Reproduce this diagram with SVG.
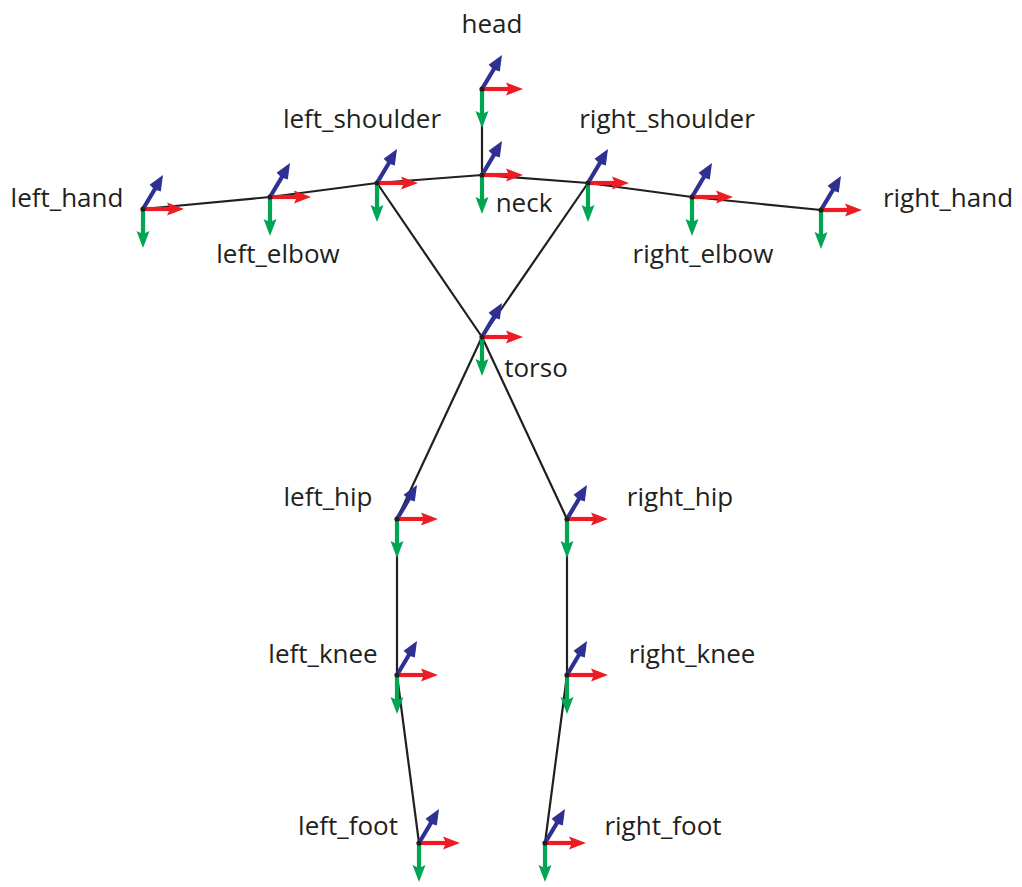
<svg xmlns="http://www.w3.org/2000/svg" xmlns:xlink="http://www.w3.org/1999/xlink" width="1022" height="887" viewBox="0 0 1022 887">
<style>
.bone{stroke:#231f20;stroke-width:2.2;fill:none;stroke-linecap:round}
.lbl{font-family:"Open Sans","Liberation Sans",sans-serif;font-size:26px;fill:#231f20;text-anchor:middle}
</style>
<defs>
<g id="axes">
<line x1="0" y1="0" x2="12.5" y2="-21" stroke="#2e3192" stroke-width="4.2"/>
<polygon points="20,-34 17.8,-17.6 11.5,-19.5 6.6,-24.3" fill="#2e3192"/>
<line x1="0" y1="0" x2="28" y2="0" stroke="#ed1c24" stroke-width="4.2"/>
<polygon points="41,0 24,-6.5 27,0 24,6.5" fill="#ed1c24"/>
<line x1="0" y1="0" x2="0" y2="26" stroke="#00a651" stroke-width="4.2"/>
<polygon points="0,39 -6.5,22 0,25 6.5,22" fill="#00a651"/>
<circle cx="0" cy="0" r="2.6" fill="#231f20"/>
</g>
</defs>
<rect width="1022" height="887" fill="#ffffff"/>
<g id="connectors">
<polyline class="bone" points="143,209 270,197 377,183 482,175 588,183 692,197 821,210"/>
<line class="bone" x1="482" y1="89" x2="482" y2="175"/>
<line class="bone" x1="377" y1="183" x2="482" y2="337"/>
<line class="bone" x1="588" y1="183" x2="482" y2="337"/>
<line class="bone" x1="482" y1="337" x2="397" y2="519"/>
<line class="bone" x1="482" y1="337" x2="567" y2="519"/>
<line class="bone" x1="397" y1="519" x2="397" y2="675"/>
<line class="bone" x1="567" y1="519" x2="567" y2="675"/>
<line class="bone" x1="397" y1="675" x2="419" y2="843"/>
<line class="bone" x1="567" y1="675" x2="545" y2="843"/>
</g>
<g id="head"><use xlink:href="#axes" href="#axes" x="482" y="89"/><text class="lbl" x="492" y="33">head</text></g>
<g id="neck"><use xlink:href="#axes" href="#axes" x="482" y="175"/><text class="lbl" x="524" y="212">neck</text></g>
<g id="left_shoulder"><use xlink:href="#axes" href="#axes" x="377" y="183"/><text class="lbl" x="362" y="128">left_shoulder</text></g>
<g id="right_shoulder"><use xlink:href="#axes" href="#axes" x="588" y="183"/><text class="lbl" x="667" y="128">right_shoulder</text></g>
<g id="left_elbow"><use xlink:href="#axes" href="#axes" x="270" y="197"/><text class="lbl" x="278" y="263">left_elbow</text></g>
<g id="right_elbow"><use xlink:href="#axes" href="#axes" x="692" y="197"/><text class="lbl" x="703" y="263">right_elbow</text></g>
<g id="left_hand"><use xlink:href="#axes" href="#axes" x="143" y="209"/><text class="lbl" x="67" y="207">left_hand</text></g>
<g id="right_hand"><use xlink:href="#axes" href="#axes" x="821" y="210"/><text class="lbl" x="948" y="207">right_hand</text></g>
<g id="torso"><use xlink:href="#axes" href="#axes" x="482" y="337"/><text class="lbl" x="536" y="377">torso</text></g>
<g id="left_hip"><use xlink:href="#axes" href="#axes" x="397" y="519"/><text class="lbl" x="328" y="506">left_hip</text></g>
<g id="right_hip"><use xlink:href="#axes" href="#axes" x="567" y="519"/><text class="lbl" x="680" y="506">right_hip</text></g>
<g id="left_knee"><use xlink:href="#axes" href="#axes" x="397" y="675"/><text class="lbl" x="323" y="663">left_knee</text></g>
<g id="right_knee"><use xlink:href="#axes" href="#axes" x="567" y="675"/><text class="lbl" x="692" y="663">right_knee</text></g>
<g id="left_foot"><use xlink:href="#axes" href="#axes" x="419" y="843"/><text class="lbl" x="348" y="835">left_foot</text></g>
<g id="right_foot"><use xlink:href="#axes" href="#axes" x="545" y="843"/><text class="lbl" x="663" y="835">right_foot</text></g>
</svg>
